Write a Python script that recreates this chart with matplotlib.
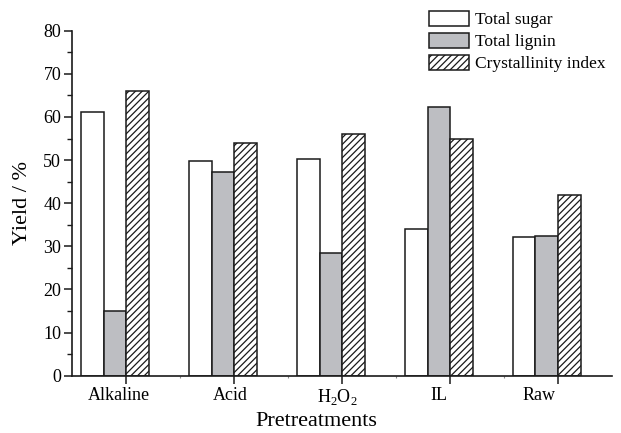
import matplotlib
matplotlib.use("Agg")
import matplotlib.pyplot as plt
import matplotlib.transforms as mtransforms
import numpy as np
from matplotlib.ticker import MultipleLocator, FixedLocator

plt.rcParams['font.family'] = ['Liberation Serif', 'DejaVu Serif']
plt.rcParams['mathtext.fontset'] = 'custom'
plt.rcParams['mathtext.rm'] = 'Liberation Serif'
plt.rcParams['hatch.linewidth'] = 0.9

categories = ['Alkaline', 'Acid', r'H$_2$O$_2$', 'IL', 'Raw']
series_names = ['Total sugar', 'Total lignin', 'Crystallinity index']
total_sugar = [61.2, 49.9, 50.2, 34.0, 32.2]
total_lignin = [14.9, 47.3, 28.4, 62.3, 32.5]
crystallinity = [66.0, 54.0, 56.0, 55.0, 42.0]

fig = plt.figure(figsize=(6.21, 4.33), dpi=100)
ax = fig.add_axes([0.1164, 0.1323, 0.8691, 0.7968])

x = np.arange(len(categories))
w = 0.209
ec = '#1a1a1a'
lw = 1.1
ax.bar(x - 2 * w, total_sugar, w, align='edge', facecolor='white', edgecolor=ec, linewidth=lw, label=series_names[0])
ax.bar(x - w, total_lignin, w, align='edge', facecolor='#bdbec2', edgecolor=ec, linewidth=lw, label=series_names[1])
ax.bar(x, crystallinity, w, align='edge', facecolor='white', edgecolor=ec, linewidth=lw, hatch='/////', label=series_names[2])

ax.set_xlim(-0.5, 4.5)
ax.set_ylim(0, 80)
ax.set_xticks(x)
ax.set_xticklabels(categories, fontsize=13)
ax.xaxis.set_minor_locator(FixedLocator(x[:-1] + 0.5))
ax.yaxis.set_major_locator(MultipleLocator(10))
ax.yaxis.set_minor_locator(MultipleLocator(5))
ax.tick_params(axis='both', which='major', direction='out', length=6, width=1.1, labelsize=13, pad=2, color=ec)
ax.tick_params(axis='y', which='minor', direction='out', length=3.3, width=1.0, color=ec)
ax.tick_params(axis='x', which='minor', direction='out', length=1.5, width=0.8, color='#888888')

# small leftward shifts of the category labels, as in the reference
label_shift_px = [-7, -4, -5, -11, -19]
for lab, dx in zip(ax.get_xticklabels(), label_shift_px):
    lab.set_transform(lab.get_transform() + mtransforms.ScaledTranslation(dx / 100, 0, fig.dpi_scale_trans))

for s in ['top', 'right']:
    ax.spines[s].set_visible(False)
for s in ['left', 'bottom']:
    ax.spines[s].set_linewidth(1.2)
    ax.spines[s].set_color(ec)

ax.set_xlabel('Pretreatments', fontsize=16, labelpad=6)
ax.xaxis.set_label_coords(0.453, -0.105)
ax.set_ylabel('Yield / %', fontsize=16, labelpad=8)

ax.legend(loc='upper left', bbox_to_anchor=(429 / 621, 1 - 11 / 433), bbox_transform=fig.transFigure,
          frameon=False, fontsize=12.5, handlelength=2.3, handleheight=0.95, handletextpad=0.35,
          labelspacing=0.25, borderpad=0, borderaxespad=0)

fig.savefig('out.png', dpi=100)
